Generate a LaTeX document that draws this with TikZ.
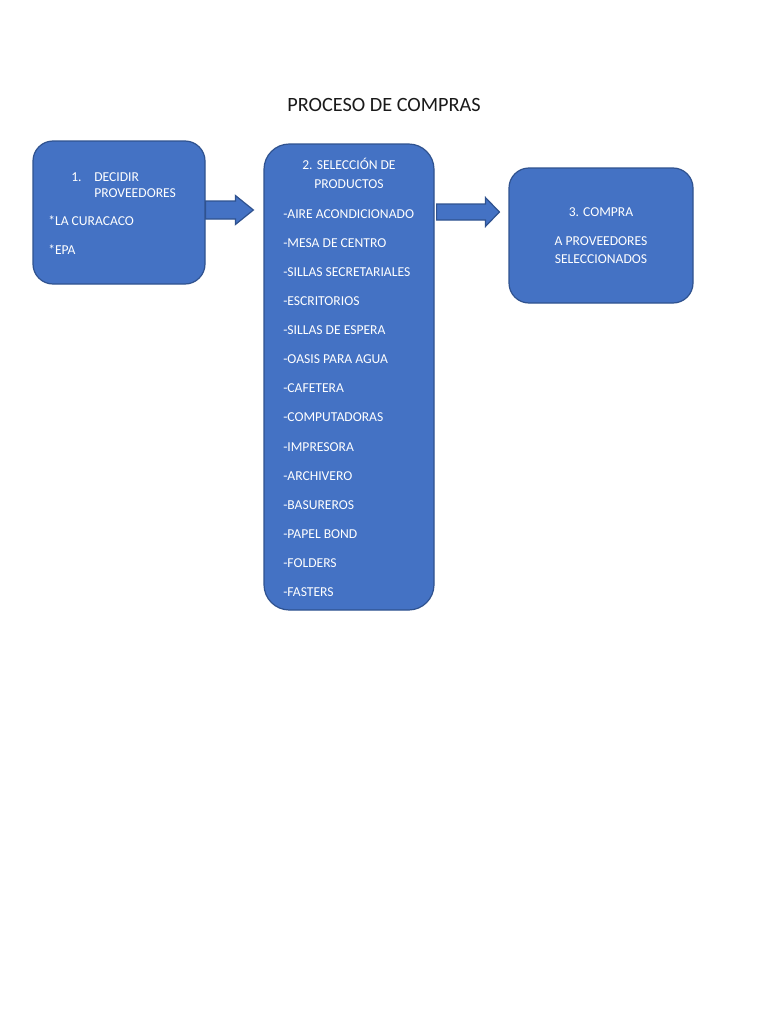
\documentclass[tikz,border=0pt]{standalone}
\usepackage{fontspec}
\setmainfont{Carlito}
\usetikzlibrary{calc}
\definecolor{boxfill}{HTML}{4472C4}
\definecolor{boxline}{HTML}{2F528F}
\definecolor{titlecol}{HTML}{1A1A1A}
\tikzset{
  box/.style={draw=boxline, fill=boxfill, line width=0.9pt, inner sep=0pt},
  txt/.style={text=white, font=\fontsize{10.2pt}{12pt}\selectfont, inner sep=0pt, anchor=base west},
  ctxt/.style={text=white, font=\fontsize{10.2pt}{12pt}\selectfont, inner sep=0pt, anchor=base},
  blockarrow/.style={draw=boxline, fill=boxfill, line width=0.9pt, line join=miter}
}
\begin{document}
\begin{tikzpicture}[x=0.75pt,y=-0.75pt]
\useasboundingbox[fill=white] (0,0) rectangle (768,1024);
% title
\node[text=titlecol, font=\fontsize{15.2pt}{18pt}\selectfont, inner sep=0pt, anchor=base] (title) at (384,111.5) {PROCESO DE COMPRAS};
% boxes
\node[box, rounded corners=15pt, minimum width=129pt, minimum height=107.25pt] (b1) at (119,212.5) {};
\node[box, rounded corners=19pt, minimum width=127.5pt, minimum height=349.5pt] (b2) at (349,377) {};
\node[box, rounded corners=15pt, minimum width=138pt, minimum height=101.25pt] (b3) at (601,235.5) {};
% box 1 text
\node[txt] (n1) at (71,181.5) {1.};
\node[txt] (t1a) at (94,181.5) {DECIDIR};
\node[txt] (t1b) at (94,197.5) {PROVEEDORES};
\node[txt] (t1c) at (48,225.5) {*LA CURACACO};
\node[txt] (t1d) at (48,254.5) {*EPA};
% box 2 text
\node[ctxt] (t2a) at (349,169.5) {2. SELECCIÓN DE};
\node[ctxt] (t2b) at (349,188.5) {PRODUCTOS};
\foreach \lbl/\yy [count=\i] in {
  -AIRE ACONDICIONADO/213, -MESA DE CENTRO/242, -SILLAS SECRETARIALES/271,
  -ESCRITORIOS/300, -SILLAS DE ESPERA/329, -OASIS PARA AGUA/358,
  -CAFETERA/387, -COMPUTADORAS/416, -IMPRESORA/446, -ARCHIVERO/475,
  -BASUREROS/504, -PAPEL BOND/533, -FOLDERS/562, -FASTERS/591}
  \node[txt] (item\i) at (283,\yy+5.5) {\lbl};
% box 3 text
\node[ctxt] (t3a) at (601,216.5) {3. COMPRA};
\node[ctxt] (t3b) at (601,245.5) {A PROVEEDORES};
\node[ctxt] (t3c) at (601,263.5) {SELECCIONADOS};
% arrows
\coordinate (a1s) at (b1.east |- 0,210);
\coordinate (a1e) at ($(b2.west |- 0,210)+(-10,0)$);
\draw[blockarrow] ($(a1s)+(0,-9)$) -- ($(a1e)+(-18,-9)$) -- ($(a1e)+(-18,-14.5)$) -- (a1e)
  -- ($(a1e)+(-18,14.5)$) -- ($(a1e)+(-18,9)$) -- ($(a1s)+(0,9)$) -- cycle;
\coordinate (a2s) at ($(b2.east |- 0,212)+(2,0)$);
\coordinate (a2e) at ($(b3.west |- 0,212)+(-9,0)$);
\draw[blockarrow] ($(a2s)+(0,-8)$) -- ($(a2e)+(-14,-8)$) -- ($(a2e)+(-14,-14.5)$) -- (a2e)
  -- ($(a2e)+(-14,14.5)$) -- ($(a2e)+(-14,8)$) -- ($(a2s)+(0,8)$) -- cycle;
\end{tikzpicture}
\end{document}
